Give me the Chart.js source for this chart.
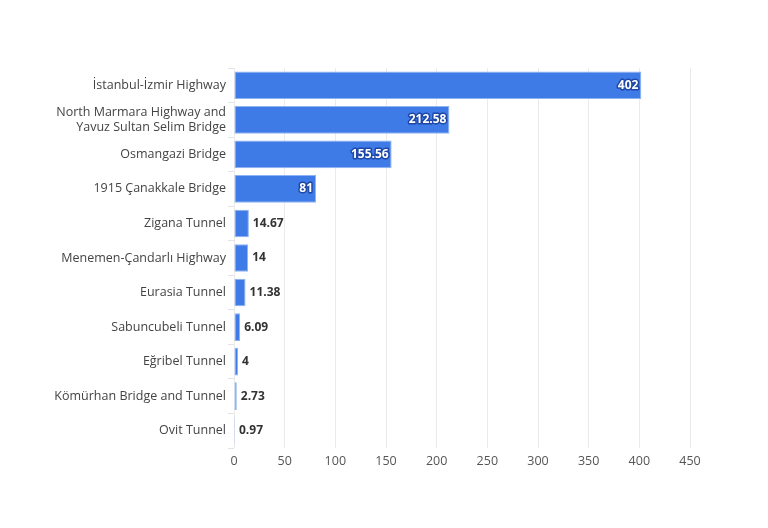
<!DOCTYPE html>
<html>
<head>
<meta charset="utf-8">
<script src="https://cdn.jsdelivr.net/npm/chart.js@4"></script>
<style>
  html, body { margin: 0; padding: 0; background: #ffffff; }
  #wrap { width: 768px; height: 528px; }
</style>
</head>
<body>
<div id="wrap"><canvas id="chart"></canvas></div>
<script>
// Projects and their values
const projects = [
    'İstanbul-İzmir Highway',
    ['North Marmara Highway and', 'Yavuz Sultan Selim Bridge'],
    'Osmangazi Bridge',
    '1915 Çanakkale Bridge',
    'Zigana Tunnel',
    'Menemen-Çandarlı Highway',
    'Eurasia Tunnel',
    'Sabuncubeli Tunnel',
    'Eğribel Tunnel',
    'Kömürhan Bridge and Tunnel',
    'Ovit Tunnel'
];
const values = [402, 212.58, 155.56, 81, 14.67, 14, 11.38, 6.09, 4, 2.73, 0.97];
const xTicks = [0, 50, 100, 150, 200, 250, 300, 350, 400, 450];

const FONT = "'Open Sans', 'Noto Sans', sans-serif";

// Draw value labels inside or after each bar
const valueLabels = {
    id: 'valueLabels',
    afterDatasetsDraw(chart) {
        const ctx = chart.ctx;
        const meta = chart.getDatasetMeta(0);
        ctx.save();
        ctx.font = 'bold 12px ' + FONT;
        ctx.textBaseline = 'middle';
        meta.data.forEach((bar, i) => {
            const text = String(values[i]);
            const tw = ctx.measureText(text).width;
            const w = bar.x - bar.base;
            if (w > tw + 10) {
                ctx.textAlign = 'right';
                ctx.lineJoin = 'round';
                ctx.lineWidth = 3;
                ctx.strokeStyle = '#1d47a8';
                ctx.strokeText(text, bar.x - 3, bar.y);
                ctx.fillStyle = '#ffffff';
                ctx.fillText(text, bar.x - 3, bar.y);
            } else {
                ctx.textAlign = 'left';
                ctx.fillStyle = '#333333';
                ctx.fillText(text, bar.x + 4, bar.y);
            }
        });
        ctx.restore();
    }
};

new Chart(document.getElementById('chart'), {
    type: 'bar',
    data: {
        labels: projects,
        datasets: [{
            data: values,
            backgroundColor: '#3f7be6',
            borderColor: '#8fb3f1',
            borderWidth: 1,
            borderSkipped: false,
            categoryPercentage: 1,
            barPercentage: 0.8
        }]
    },
    options: {
        indexAxis: 'y',
        responsive: true,
        maintainAspectRatio: false,
        animation: false,
        layout: { padding: { top: 68, right: 78, bottom: 53, left: 0 } },
        plugins: {
            legend: { display: false },
            tooltip: { enabled: false }
        },
        scales: {
            x: {
                min: 0,
                max: 450,
                afterBuildTicks(scale) {
                    scale.ticks = xTicks.map(v => ({ value: v }));
                },
                grid: { color: '#ebebeb', drawTicks: false },
                border: { display: false },
                ticks: {
                    padding: 6,
                    color: '#555555',
                    font: { family: FONT, size: 12.5 }
                }
            },
            y: {
                afterFit(scale) { scale.width = 234; },
                grid: { drawOnChartArea: false, tickLength: 6, color: '#e3e3e3' },
                border: { display: false },
                ticks: {
                    padding: 2,
                    color: '#444444',
                    font: { family: FONT, size: 12.5 }
                }
            }
        }
    },
    plugins: [valueLabels]
});
</script>
</body>
</html>
